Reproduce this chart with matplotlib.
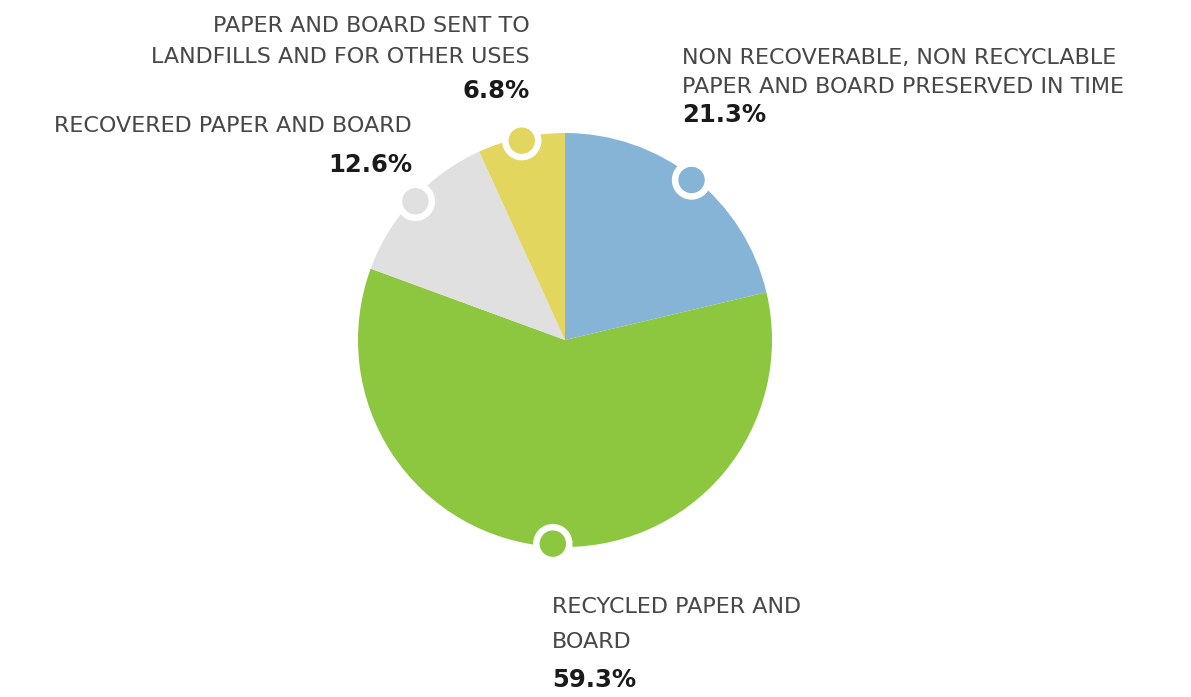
import numpy as np
import matplotlib.pyplot as plt
from matplotlib.patches import Circle

# --- data ---
labels = [["NON RECOVERABLE, NON RECYCLABLE", "PAPER AND BOARD PRESERVED IN TIME"],
          ["RECYCLED PAPER AND", "BOARD"],
          ["RECOVERED PAPER AND BOARD"],
          ["PAPER AND BOARD SENT TO", "LANDFILLS AND FOR OTHER USES"]]
shares = [21.3, 59.3, 12.6, 6.8]
pct_labels = ["21.3%", "59.3%", "12.6%", "6.8%"]
colors = ["#85B4D6", "#8DC63F", "#E0E0E0", "#E2D65E"]

W, H = 1191, 697
fig = plt.figure(figsize=(W / 100, H / 100), dpi=100)
ax = fig.add_axes([0, 0, 1, 1])

cx, cy, R = 565, H - 340, 207
wedges, _ = ax.pie(shares, colors=colors, startangle=90, counterclock=False,
                   center=(cx, cy), radius=R, frame=True)
ax.set_xlim(0, W)
ax.set_ylim(0, H)
ax.set_aspect('equal')
ax.axis('off')

# marker dots at middle of each wedge
for w, c in zip(wedges, colors):
    th = np.deg2rad((w.theta1 + w.theta2) / 2)
    mx, my = cx + (R - 3) * np.cos(th), cy + (R - 3) * np.sin(th)
    ax.add_patch(Circle((mx, my), 19, color='white', zorder=5))
    ax.add_patch(Circle((mx, my), 12.5, color=c, zorder=6))

font = ['DejaVu Sans']
lab_kw = dict(fontsize=16, color='#474747', family=font, va='baseline')
pct_kw = dict(fontsize=17.5, color='#1a1a1a', family=font, fontweight='bold', va='baseline')

# anchor x, alignment, label baselines, pct baseline (pixels from top)
layout = [(682, 'left', [64, 93], 122),
          (552, 'left', [613, 648], 687),
          (412, 'right', [132], 172),
          (530, 'right', [32, 63], 98)]

for lines, pct, (x, ha, ys, py) in zip(labels, pct_labels, layout):
    for line, y in zip(lines, ys):
        ax.text(x, H - y, line, ha=ha, **lab_kw)
    ax.text(x, H - py, pct, ha=ha, **pct_kw)

fig.savefig('out.png', dpi=100, facecolor='white')
